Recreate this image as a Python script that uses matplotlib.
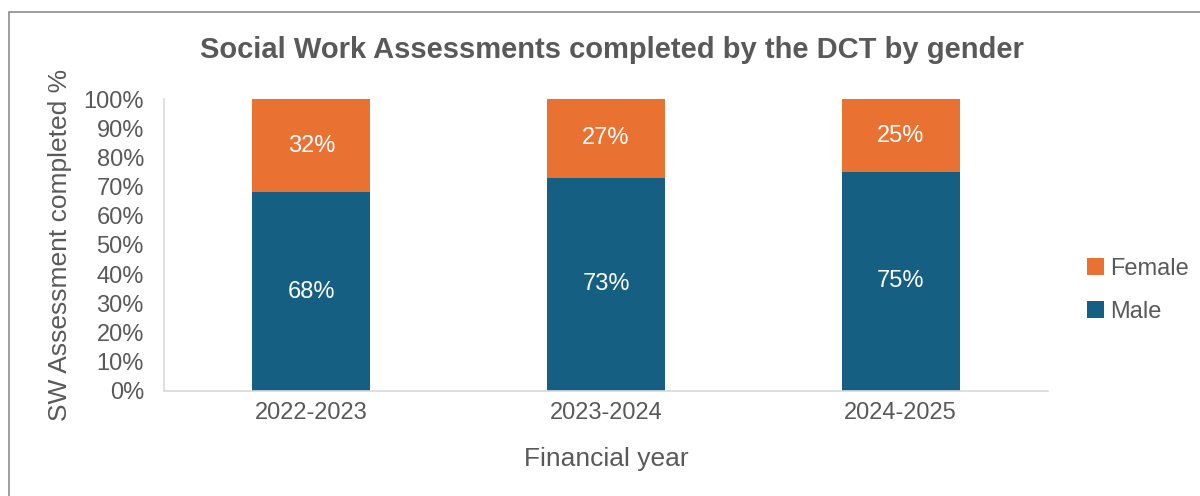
import matplotlib.pyplot as plt
from matplotlib.patches import Rectangle

years = ["2022-2023", "2023-2024", "2024-2025"]
male = [68, 73, 75]
female = [32, 27, 25]
yticks = list(range(0, 101, 10))

blue = "#156082"
orange = "#E97132"
grey = "#595959"

plt.rcParams["font.family"] = ["Liberation Sans", "DejaVu Sans"]

fig = plt.figure(figsize=(12, 4.96), dpi=100)
ax = fig.add_axes([0.1367, 0.2117, 0.7367, 0.5887])

# outer chart frame
fig.patches.append(Rectangle((9 / 1200, -0.1), 1.2, 1 - 12 / 496 + 0.1,
                             transform=fig.transFigure, fill=False,
                             edgecolor="#8c8c8c", linewidth=1.2))

x = range(len(years))
b1 = ax.bar(x, male, width=0.4, color=blue, label="Male")
b2 = ax.bar(x, female, width=0.4, bottom=male, color=orange, label="Female")

for i in x:
    ax.text(i, male[i] / 2, f"{male[i]}%", ha="center", va="center",
            color="white", fontsize=17)
    ax.text(i, male[i] + female[i] / 2, f"{female[i]}%", ha="center",
            va="center", color="white", fontsize=17)

ax.set_xlim(-0.5, 2.5)
ax.set_ylim(0, 100)
ax.set_yticks(yticks)
ax.set_yticklabels([f"{t}%" for t in yticks])
ax.set_xticks(list(x))
ax.set_xticklabels(years)
ax.tick_params(length=0, labelsize=17, colors=grey)
ax.tick_params(axis="x", pad=8)
ax.tick_params(axis="y", pad=14.5)

for s in ["top", "right"]:
    ax.spines[s].set_visible(False)
for s in ["left", "bottom"]:
    ax.spines[s].set_color("#d9d9d9")
    ax.spines[s].set_linewidth(1.2)

ax.set_xlabel("Financial year", fontsize=19, color=grey, labelpad=16.5)
ax.set_ylabel("SW Assessment completed %", fontsize=19, color=grey, labelpad=8)
fig.text(0.51, 0.9, "Social Work Assessments completed by the DCT by gender",
         ha="center", va="center", fontsize=21, fontweight="bold", color=grey)

ax.legend(handles=[b2, b1], loc="center left", bbox_to_anchor=(1.02, 0.345),
          frameon=False, fontsize=17, labelcolor=grey, handlelength=0.7,
          handleheight=0.7, handletextpad=0.3, labelspacing=0.9)

fig.savefig("out.png", dpi=100, facecolor="white")
